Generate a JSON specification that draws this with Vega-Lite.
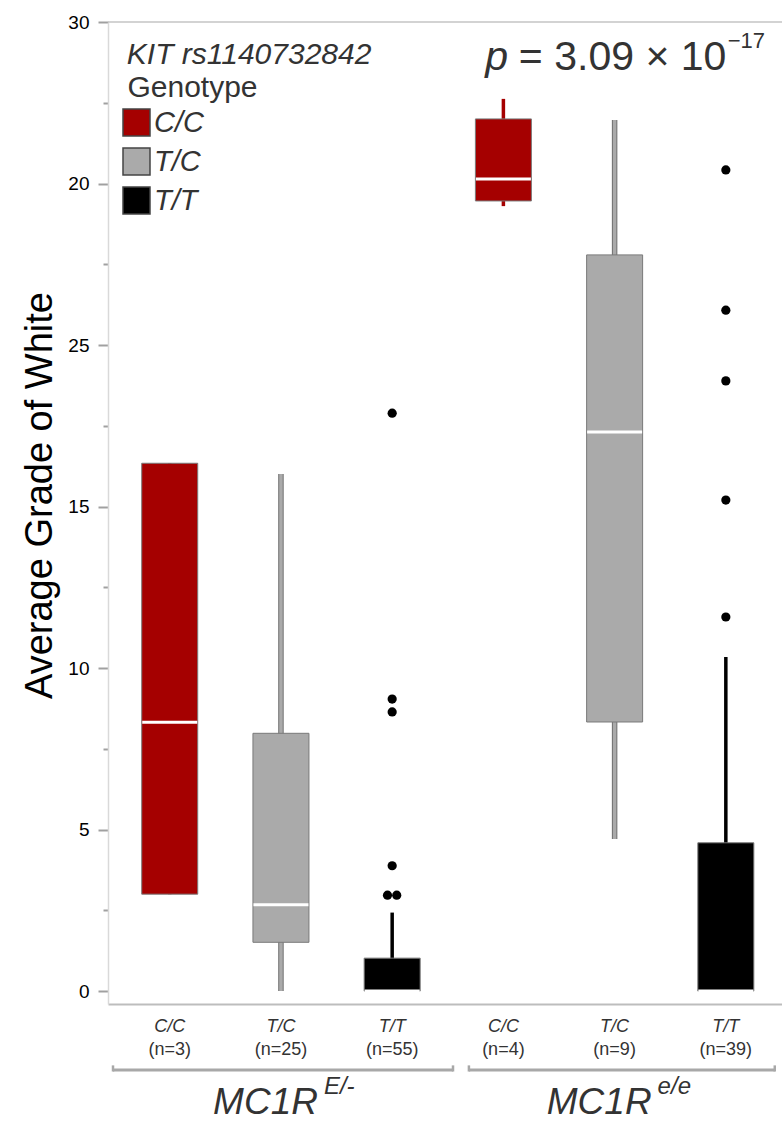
{
  "$schema": "https://vega.github.io/schema/vega-lite/v6.json",
  "width": 674,
  "height": 982,
  "autosize": {"type": "none"},
  "padding": {"left": 108, "top": 22, "right": 0, "bottom": 118},
  "config": {
    "font": "Liberation Sans",
    "view": {"stroke": null},
    "axisX": {"domainColor": "#bdbdbd", "domainWidth": 2, "ticks": false, "labels": false, "grid": false}
  },
  "datasets": {
    "boxes": [
      {"group": "E/-", "genotype": "C/C", "pos": 1, "nlab": "(n=3)", "lower": 3.0, "q1": 3.0, "median": 8.32, "q3": 16.34, "upper": 16.34},
      {"group": "E/-", "genotype": "T/C", "pos": 2, "nlab": "(n=25)", "lower": 0, "q1": 1.51, "median": 2.67, "q3": 7.98, "upper": 16.01},
      {"group": "E/-", "genotype": "T/T", "pos": 3, "nlab": "(n=55)", "lower": 0, "q1": 0, "median": 0, "q3": 1.02, "upper": 2.43},
      {"group": "e/e", "genotype": "C/C", "pos": 4, "nlab": "(n=4)", "lower": 24.3, "q1": 24.46, "median": 25.14, "q3": 27.0, "upper": 27.62},
      {"group": "e/e", "genotype": "T/C", "pos": 5, "nlab": "(n=9)", "lower": 4.71, "q1": 8.33, "median": 17.31, "q3": 22.79, "upper": 26.97},
      {"group": "e/e", "genotype": "T/T", "pos": 6, "nlab": "(n=39)", "lower": 0, "q1": 0, "median": 0, "q3": 4.59, "upper": 10.34}
    ],
    "outliers": [
      {"group": "E/-", "genotype": "T/T", "pos": 2.958, "value": 2.97},
      {"group": "E/-", "genotype": "T/T", "pos": 3.041, "value": 2.97},
      {"group": "E/-", "genotype": "T/T", "pos": 3, "value": 3.88},
      {"group": "E/-", "genotype": "T/T", "pos": 3, "value": 8.64},
      {"group": "E/-", "genotype": "T/T", "pos": 3, "value": 9.04},
      {"group": "E/-", "genotype": "T/T", "pos": 3, "value": 17.89},
      {"group": "e/e", "genotype": "T/T", "pos": 6, "value": 11.58},
      {"group": "e/e", "genotype": "T/T", "pos": 6, "value": 15.2},
      {"group": "e/e", "genotype": "T/T", "pos": 6, "value": 18.89},
      {"group": "e/e", "genotype": "T/T", "pos": 6, "value": 21.08},
      {"group": "e/e", "genotype": "T/T", "pos": 6, "value": 25.42}
    ],
    "brackets": [
      {"group": "E/-", "start": 0.49, "end": 3.547},
      {"group": "e/e", "start": 3.69, "end": 6.44}
    ],
    "groups": [
      {"group": "E/-", "gene": "MC1R", "sup": "E/-", "pos": 2},
      {"group": "e/e", "gene": "MC1R", "sup": "e/e", "pos": 5}
    ]
  },
  "layer": [
    {
      "data": {"values": [{}]},
      "mark": {"type": "rule", "stroke": "#c4c4c4", "strokeWidth": 1.5},
      "encoding": {
        "y": {
          "datum": 30,
          "type": "quantitative",
          "scale": {"domain": [-0.4, 30], "nice": false, "zero": false},
          "axis": {
            "values": [0, 2.5, 5, 7.5, 10, 12.5, 15, 17.5, 20, 22.5, 25, 27.5, 30],
            "labelExpr": "datum.value == 20 ? '25' : datum.value == 25 ? '20' : (datum.value % 5 == 0 ? datum.label : '')",
            "tickSize": {"condition": {"test": "datum.value % 5 == 0", "value": 10}, "value": 5},
            "tickColor": "#a0a0a0", "tickWidth": 2,
            "labelFontSize": 19, "labelColor": "#000000", "labelPadding": 9, "labelFont": "Liberation Sans",
            "domainColor": "#d9d9d9", "domainWidth": 1.5, "grid": false,
            "title": "Average Grade of White", "titleFontSize": 38, "titleFontWeight": "normal", "titleColor": "#000000", "titlePadding": 8, "titleFont": "Liberation Sans", "titleY": 473
          }
        }
      }
    },
    {
      "data": {"name": "boxes"},
      "transform": [{"filter": "datum.genotype == 'T/C'"}],
      "mark": {"type": "bar", "fill": "#707070", "size": 5.5, "opacity": 1},
      "encoding": {
        "x": {"field": "pos", "type": "quantitative", "scale": {"domain": [0.49, 6.46], "nice": false, "zero": false}, "title": null},
        "y": {"field": "lower", "type": "quantitative"},
        "y2": {"field": "upper"}
      }
    },
    {
      "data": {"name": "boxes"},
      "mark": {"type": "bar", "size": 3.5, "opacity": 1},
      "encoding": {
        "x": {"field": "pos", "type": "quantitative", "title": null},
        "y": {"field": "lower", "type": "quantitative"},
        "y2": {"field": "upper"},
        "fill": {"field": "genotype", "type": "nominal"}
      }
    },
    {
      "data": {"name": "boxes"},
      "mark": {"type": "bar", "stroke": "#7a7a7a", "strokeWidth": 1, "size": 56, "opacity": 1},
      "encoding": {
        "x": {"field": "pos", "type": "quantitative", "title": null},
        "y": {"field": "q1", "type": "quantitative"},
        "y2": {"field": "q3"},
        "fill": {
          "field": "genotype", "type": "nominal",
          "scale": {"domain": ["C/C", "T/C", "T/T"], "range": ["#a50000", "#aaaaaa", "#000000"]},
          "legend": {
            "title": null, "orient": "none", "legendX": 14, "legendY": 86, "padding": 0,
            "symbolType": "square", "symbolSize": 729, "symbolStrokeColor": "#444444", "symbolStrokeWidth": 1.5, "symbolOpacity": 1,
            "labelFontSize": 29, "labelFontStyle": "italic", "labelColor": "#333333", "labelOffset": 3, "rowPadding": 6, "labelFont": "Liberation Sans"
          }
        }
      }
    },
    {
      "data": {"name": "boxes"},
      "mark": {"type": "tick", "orient": "horizontal", "fill": "#ffffff", "opacity": 1, "size": 55, "thickness": 3},
      "encoding": {
        "x": {"field": "pos", "type": "quantitative", "title": null},
        "y": {"field": "median", "type": "quantitative"}
      }
    },
    {
      "data": {"name": "outliers"},
      "mark": {"type": "point", "filled": true, "fill": "#000000", "size": 85, "opacity": 1},
      "encoding": {
        "x": {"field": "pos", "type": "quantitative", "title": null},
        "y": {"field": "value", "type": "quantitative"}
      }
    },
    {
      "data": {"name": "boxes"},
      "mark": {"type": "text", "fontSize": 18, "fontStyle": "italic", "color": "#333333", "baseline": "alphabetic", "align": "center"},
      "encoding": {
        "x": {"field": "pos", "type": "quantitative", "title": null},
        "y": {"datum": -1.26},
        "text": {"field": "genotype"}
      }
    },
    {
      "data": {"name": "boxes"},
      "mark": {"type": "text", "fontSize": 18, "color": "#333333", "baseline": "alphabetic", "align": "center"},
      "encoding": {
        "x": {"field": "pos", "type": "quantitative", "title": null},
        "y": {"datum": -1.97},
        "text": {"field": "nlab"}
      }
    },
    {
      "data": {"name": "brackets"},
      "mark": {"type": "rule", "stroke": "#a8a8a8", "strokeWidth": 3},
      "encoding": {
        "x": {"field": "start", "type": "quantitative", "title": null},
        "x2": {"field": "end"},
        "y": {"datum": -2.446}
      }
    },
    {
      "data": {"name": "brackets"},
      "mark": {"type": "rule", "stroke": "#a8a8a8", "strokeWidth": 2.5},
      "encoding": {
        "x": {"field": "start", "type": "quantitative", "title": null},
        "y": {"datum": -2.49},
        "y2": {"datum": -2.3}
      }
    },
    {
      "data": {"name": "brackets"},
      "mark": {"type": "rule", "stroke": "#a8a8a8", "strokeWidth": 2.5},
      "encoding": {
        "x": {"field": "end", "type": "quantitative", "title": null},
        "y": {"datum": -2.49},
        "y2": {"datum": -2.3}
      }
    },
    {
      "data": {"name": "groups"},
      "mark": {"type": "text", "fontSize": 37, "fontStyle": "italic", "color": "#333333", "align": "right", "baseline": "alphabetic", "dx": 37},
      "encoding": {
        "x": {"field": "pos", "type": "quantitative", "title": null},
        "y": {"datum": -3.8},
        "text": {"field": "gene"}
      }
    },
    {
      "data": {"name": "groups"},
      "mark": {"type": "text", "fontSize": 24, "fontStyle": "italic", "color": "#333333", "align": "left", "baseline": "alphabetic", "dx": 43},
      "encoding": {
        "x": {"field": "pos", "type": "quantitative", "title": null},
        "y": {"datum": -3.2},
        "text": {"field": "sup"}
      }
    },
    {
      "data": {"values": [{"t": "KIT rs1140732842"}]},
      "mark": {"type": "text", "fontSize": 30, "fontStyle": "italic", "color": "#333333", "align": "left", "baseline": "alphabetic"},
      "encoding": {"x": {"datum": 0.614}, "y": {"datum": 28.7}, "text": {"field": "t"}}
    },
    {
      "data": {"values": [{"t": "Genotype"}]},
      "mark": {"type": "text", "fontSize": 30, "color": "#333333", "align": "left", "baseline": "alphabetic"},
      "encoding": {"x": {"datum": 0.62}, "y": {"datum": 27.68}, "text": {"field": "t"}}
    },
    {
      "data": {"values": [{"t": "p"}]},
      "mark": {"type": "text", "fontSize": 41, "fontStyle": "italic", "color": "#333333", "align": "left", "baseline": "alphabetic"},
      "encoding": {"x": {"datum": 3.838}, "y": {"datum": 28.51}, "text": {"field": "t"}}
    },
    {
      "data": {"values": [{"t": "= 3.09 × 10"}]},
      "mark": {"type": "text", "fontSize": 41, "color": "#333333", "align": "left", "baseline": "alphabetic"},
      "encoding": {"x": {"datum": 4.139}, "y": {"datum": 28.51}, "text": {"field": "t"}}
    },
    {
      "data": {"values": [{"t": "−17"}]},
      "mark": {"type": "text", "fontSize": 22, "color": "#333333", "align": "left", "baseline": "alphabetic"},
      "encoding": {"x": {"datum": 6.017}, "y": {"datum": 29.19}, "text": {"field": "t"}}
    }
  ]
}
